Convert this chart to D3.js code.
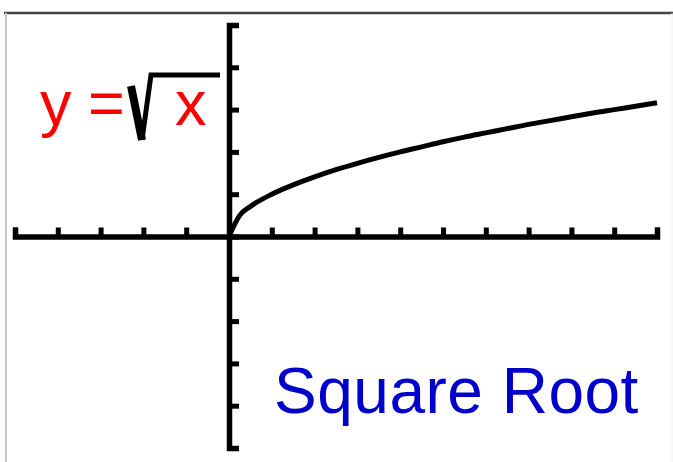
<!DOCTYPE html>
<html>
<head>
<meta charset="utf-8">
<script src="https://cdn.jsdelivr.net/npm/d3@7"></script>
<style>
  html, body { margin: 0; padding: 0; background: #fff; }
  svg { display: block; }
</style>
</head>
<body>
<div id="chart"></div>
<script>
// --- Data ---
const xTicks = [-5, -4, -3, -2, -1, 0, 1, 2, 3, 4, 5, 6, 7, 8, 9, 10];
const yTicks = [-5, -4, -3, -2, -1, 0, 1, 2, 3, 4, 5];
const curveX = [0, 0.25, 0.5, 1, 1.5, 2, 2.5, 3, 3.5, 4, 4.5, 5, 5.5, 6, 6.5, 7, 7.5, 8, 8.5, 9, 9.5, 10];
const curveY = [0, 0.5, 0.71, 1, 1.22, 1.41, 1.58, 1.73, 1.87, 2, 2.12, 2.24, 2.35, 2.45, 2.55, 2.65, 2.74, 2.83, 2.92, 3, 3.08, 3.16];
const titleText = 'Square Root';

const width = 673, height = 462;

const svg = d3.select('#chart').append('svg')
  .attr('width', width)
  .attr('height', height);

// frame lines
svg.append('line')
  .attr('x1', 4).attr('x2', width).attr('y1', 13).attr('y2', 13)
  .attr('stroke', '#444').attr('stroke-width', 2.5);
svg.append('line')
  .attr('x1', 6).attr('x2', 6).attr('y1', 13).attr('y2', height)
  .attr('stroke', '#c8c8c8').attr('stroke-width', 2);
svg.append('line')
  .attr('x1', 672).attr('x2', 672).attr('y1', 13).attr('y2', height)
  .attr('stroke', '#eee').attr('stroke-width', 1);

// --- Scales ---
const x = d3.scaleLinear().domain([-5, 10]).range([15, 657]);
const y = d3.scaleLinear().domain([-5, 5]).range([448, 25]);

// x axis (ticks point up)
const xAxis = svg.append('g')
  .attr('transform', `translate(0,${y(0)})`)
  .call(d3.axisTop(x).tickValues(xTicks).tickFormat('').tickSizeInner(9).tickSizeOuter(9));

// y axis (ticks point right)
const yAxis = svg.append('g')
  .attr('transform', `translate(${x(0)},0)`)
  .call(d3.axisRight(y).tickValues(yTicks).tickFormat('').tickSizeInner(10).tickSizeOuter(10));

[xAxis, yAxis].forEach(g => {
  g.select('.domain').attr('stroke', '#000').attr('stroke-width', 5.5).attr('fill', 'none');
  g.selectAll('.tick line').attr('stroke', '#000').attr('stroke-width', 5);
});

// --- Curve ---
const pts = curveX.map((v, i) => [v, curveY[i]]);
svg.append('path')
  .datum(pts)
  .attr('fill', 'none')
  .attr('stroke', '#000')
  .attr('stroke-width', 5)
  .attr('d', d3.line().x(d => x(d[0])).y(d => y(d[1])).curve(d3.curveMonotoneX));

// --- Formula label ---
const font = '"Liberation Sans", Arial, sans-serif';
svg.append('text')
  .attr('x', 40).attr('y', 125)
  .style('font-family', font).style('font-size', '63px')
  .attr('fill', '#ff0000')
  .text('y');
svg.append('text')
  .attr('x', 88).attr('y', 125)
  .style('font-family', font).style('font-size', '63px')
  .attr('fill', '#ff0000')
  .text('=');
// radical sign: thick descending stroke, thinner rising stroke and bar
svg.append('path')
  .attr('d', 'M131,86 L142,140')
  .attr('stroke', '#000').attr('stroke-width', 8);
svg.append('path')
  .attr('d', 'M142,140 L151,75 L220,75')
  .attr('fill', 'none')
  .attr('stroke', '#000')
  .attr('stroke-width', 5);
svg.append('text')
  .attr('x', 175).attr('y', 125)
  .style('font-family', font).style('font-size', '63px')
  .attr('fill', '#ff0000')
  .text('x');

// --- Title ---
svg.append('text')
  .attr('x', 274).attr('y', 413)
  .style('font-family', font).style('font-size', '64px')
  .style('letter-spacing', '0.5px')
  .attr('fill', '#0000cc')
  .text(titleText);
</script>
</body>
</html>
